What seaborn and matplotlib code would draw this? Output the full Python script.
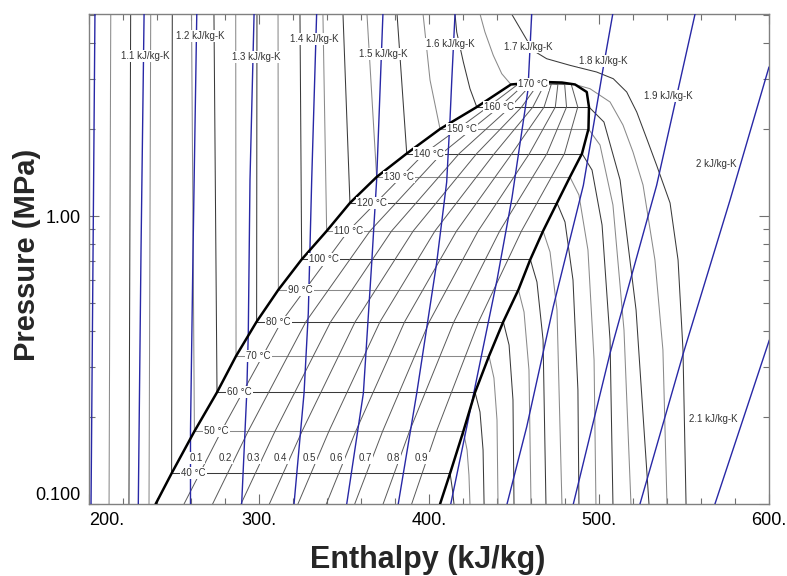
import pandas as pd
import matplotlib
matplotlib.use("Agg")
import matplotlib.pyplot as plt
import seaborn as sns
from matplotlib.ticker import FixedLocator, NullFormatter

# ---------- values (h in kJ/kg, P in MPa) ----------

# saturation dome: liquid side bottom -> top -> vapour side bottom
dome_h = [239.2, 248.6, 262.0, 275.3, 286.5, 298.6, 311.4, 325.1, 339.8, 353.5, 369.2,
          386.9, 406.5, 428.1, 448.2, 458.2, 468.2, 478.2, 485.9, 492.8, 494.1, 493.8,
          490.0, 482.9, 475.3, 467.1, 459.6, 452.6, 443.7, 435.3, 427.1, 420.2, 412.4, 406.5]
dome_p = [0.100, 0.1278, 0.1788, 0.2442, 0.3265, 0.4296, 0.5546, 0.7066, 0.8870, 1.110, 1.366,
          1.648, 2.005, 2.390, 2.862, 2.896, 2.919, 2.907, 2.862, 2.695, 2.390, 2.005,
          1.648, 1.366, 1.110, 0.8870, 0.7066, 0.5546, 0.4296, 0.3265, 0.2442, 0.1788, 0.1278, 0.100]

# labelled isotherms: saturation pressure and the two ends of the flat part
temps = [40, 50, 60, 70, 80, 90, 100, 110, 120, 130, 140, 150, 160, 170]
p_sat = [0.1278, 0.1788, 0.2442, 0.3265, 0.4296, 0.5546, 0.7066, 0.8870, 1.110, 1.366,
         1.648, 2.005, 2.390, 2.862]
h_sat_liq = [248.6, 262.0, 275.3, 286.5, 298.6, 311.4, 325.1, 339.8, 353.5, 369.2,
             386.9, 406.5, 428.1, 448.2]
h_sat_vap = [412.4, 420.2, 427.1, 435.3, 443.7, 452.6, 459.6, 467.1, 475.3, 482.9,
             490.0, 493.8, 494.1, 485.9]

# compressed-liquid branches (saturated liquid up to the top edge)
liquid_branches = {
    10: ([211.8, 212.8], [0.100, 5.028]),
    20: ([223.5, 224.5], [0.100, 5.028]),
    30: ([235.3, 236.3], [0.100, 5.028]),
    40: ([248.6, 249.0], [0.1278, 5.028]),
    50: ([262.0, 260.3], [0.1788, 5.028]),
    60: ([275.3, 273.5], [0.2442, 5.028]),
    70: ([286.5, 286.3], [0.3265, 5.028]),
    80: ([298.6, 298.8], [0.4296, 5.028]),
    90: ([311.4, 311.2], [0.5546, 5.028]),
    100: ([325.1, 324.1], [0.7066, 5.028]),
    110: ([339.8, 337.6], [0.8870, 5.028]),
    120: ([353.5, 349.4], [1.110, 5.028]),
    130: ([369.2, 363.5], [1.366, 5.028]),
    140: ([386.9, 383.9, 381.2], [1.648, 2.966, 5.028]),
    150: ([406.5, 400.6, 396.5], [2.005, 2.966, 5.028]),
    160: ([428.1, 424.1, 420.2, 416.3, 415.3], [2.390, 2.767, 3.425, 4.354, 5.028]),
    170: ([448.2, 442.8, 437.8, 432.9, 430.0], [2.862, 3.119, 3.614, 4.354, 5.028]),
}

# superheated branches (saturated vapour down to the bottom edge), 180 °C is supercritical
vapour_branches = {
    40: ([412.4, 413.8, 414.7], [0.1278, 0.112, 0.100]),
    50: ([420.2, 422.4, 423.5, 424.1], [0.1788, 0.1540, 0.1260, 0.100]),
    60: ([427.1, 430.0, 431.8, 432.4], [0.2442, 0.2087, 0.1540, 0.100]),
    70: ([435.3, 438.2, 440.0, 440.6], [0.3265, 0.2738, 0.1957, 0.100]),
    80: ([443.7, 447.1, 449.4, 450.0], [0.4296, 0.3565, 0.2297, 0.100]),
    90: ([452.6, 455.9, 458.8, 460.0], [0.5546, 0.4642, 0.2920, 0.100]),
    100: ([459.6, 463.5, 467.1, 468.8], [0.7066, 0.5900, 0.3711, 0.100]),
    110: ([467.1, 471.2, 475.3, 478.2], [0.8870, 0.7499, 0.4717, 0.100]),
    120: ([475.3, 480.0, 484.7, 487.6, 488.2], [1.110, 0.9532, 0.5995, 0.2487, 0.100]),
    130: ([482.9, 488.2, 493.5, 497.1, 498.2], [1.366, 1.183, 0.7623, 0.3162, 0.100]),
    140: ([490.0, 495.9, 501.8, 506.5, 508.2], [1.648, 1.444, 0.9306, 0.3711, 0.100]),
    150: ([493.8, 500.6, 508.2, 514.7, 518.8], [2.005, 1.764, 1.092, 0.4019, 0.100]),
    160: ([494.1, 502.9, 512.4, 521.8, 529.4], [2.390, 2.120, 1.334, 0.4717, 0.100]),
    170: ([485.9, 494.7, 506.5, 514.1, 520.0, 525.9, 532.9, 537.6, 540.0],
          [2.862, 2.767, 2.488, 2.070, 1.668, 1.281, 0.7038, 0.3426, 0.100]),
    180: ([448.6, 452.5, 459.4, 463.4, 469.2, 482.9, 498.6, 508.4, 516.3, 522.2, 528.1,
           533.9, 541.8, 546.5, 549.4, 551.2],
          [5.028, 4.594, 3.915, 3.690, 3.517, 3.336, 3.162, 2.997, 2.695, 2.296, 1.855,
           1.500, 1.110, 0.7038, 0.3426, 0.100]),
}

# constant-quality lines, read at a few pressures and meeting at the critical point
quality_p = [0.100, 0.1788, 0.4296, 0.8870, 1.648, 2.390, 2.862, 2.919]
quality_h = {
    0.1: [255.9, 277.8, 313.2, 352.5, 397.2, 434.6, 452.2, 468.2],
    0.2: [272.7, 293.6, 327.6, 365.3, 407.5, 441.3, 456.1, 468.2],
    0.3: [289.4, 309.4, 342.2, 378.0, 417.8, 447.9, 460.1, 468.2],
    0.4: [306.1, 325.3, 356.6, 390.7, 428.1, 454.5, 464.0, 468.2],
    0.5: [322.9, 341.1, 371.2, 403.5, 438.5, 461.1, 467.9, 468.2],
    0.6: [339.6, 356.9, 385.7, 416.2, 448.8, 467.7, 471.9, 468.2],
    0.7: [356.3, 372.7, 400.2, 428.9, 459.1, 474.3, 475.8, 468.2],
    0.8: [373.0, 388.5, 414.7, 441.6, 469.4, 480.9, 479.8, 468.2],
    0.9: [389.8, 404.4, 429.2, 454.4, 479.7, 487.5, 483.7, 468.2],
}
quality_label_h = [263.4, 280.0, 296.6, 312.8, 329.4, 345.7, 362.4, 379.0, 395.7]
quality_label_p = 0.1444

# isentropes (kJ/kg-K)
isentropes = {
    1.0: ([203.5, 201.2], [5.028, 0.100]),
    1.1: ([232.4, 230.6, 229.0], [5.028, 0.7623, 0.100]),
    1.2: ([263.4, 261.2, 259.7, 259.7], [5.028, 0.7623, 0.1788, 0.100]),
    1.3: ([297.1, 294.7, 293.7, 292.8, 289.8], [5.028, 1.334, 0.3924, 0.2428, 0.100]),
    1.4: ([333.9, 331.0, 330.0, 329.0, 326.5, 320.6], [5.028, 1.334, 0.7822, 0.4604, 0.2428, 0.100]),
    1.5: ([372.9, 369.2, 366.3, 361.4, 351.6], [5.028, 1.334, 0.6870, 0.2428, 0.100]),
    1.6: ([415.3, 413.4, 412.4, 410.4, 404.5, 392.8, 381.9],
          [5.028, 2.966, 2.189, 1.312, 0.6870, 0.2428, 0.100]),
    1.7: ([460.4, 458.2, 448.8, 440.0, 426.1, 412.8], [5.028, 2.738, 1.155, 0.5995, 0.2390, 0.100]),
    1.8: ([508.1, 502.4, 490.8, 473.1, 457.5, 445.9], [5.028, 3.247, 1.278, 0.4842, 0.1855, 0.100]),
    1.9: ([556.5, 533.9, 506.5, 484.9], [5.028, 1.278, 0.3337, 0.100]),
    2.0: ([600.0, 577.1, 549.6, 524.1], [3.291, 1.137, 0.3337, 0.100]),
    2.1: ([600.2, 568.2], [0.3711, 0.100]),
}
entropy_labels = ["1.1 kJ/kg-K", "1.2 kJ/kg-K", "1.3 kJ/kg-K", "1.4 kJ/kg-K", "1.5 kJ/kg-K",
                  "1.6 kJ/kg-K", "1.7 kJ/kg-K", "1.8 kJ/kg-K", "1.9 kJ/kg-K", "2 kJ/kg-K",
                  "2.1 kJ/kg-K"]
entropy_label_h = [232.9, 265.3, 298.2, 332.4, 373.1, 412.4, 458.4, 502.5, 540.6, 569.2, 567.2]
entropy_label_p = [3.594, 4.207, 3.566, 4.107, 3.643, 3.966, 3.863, 3.444, 2.610, 1.516, 0.1968]

# ---------- build long tables for seaborn ----------
rows = []


def add_curve(family, name, hs, ps, shade="dark"):
    for i, (h, p) in enumerate(zip(hs, ps)):
        rows.append({"family": family, "curve": name, "i": i, "h": h, "p": p, "shade": shade})


for T, (hs, ps) in liquid_branches.items():
    add_curve("iso", f"L{T}", hs, ps, "dark" if T % 20 == 0 else "light")
for T, (hs, ps) in vapour_branches.items():
    add_curve("iso", f"V{T}", hs, ps, "dark" if T % 20 == 0 else "light")
for T, p, hl, hv in zip(temps, p_sat, h_sat_liq, h_sat_vap):
    add_curve("iso", f"S{T}", [hl, hv], [p, p], "dark" if T % 20 == 0 else "light")
for q, hs in quality_h.items():
    add_curve("quality", f"Q{q}", hs, quality_p)
for s, (hs, ps) in isentropes.items():
    add_curve("entropy", f"E{s}", hs, ps)
add_curve("dome", "dome", dome_h, dome_p)

df = pd.DataFrame(rows)

# ---------- plot ----------
sns.set_style("ticks")
plt.rcParams["font.family"] = ["Liberation Sans", "DejaVu Sans"]

fig = plt.figure(figsize=(7.87, 5.76), dpi=100)
ax = fig.add_axes([89 / 787, 72 / 576, 680 / 787, 490 / 576])
ax.set_yscale("log")

gray_pal = {"dark": "#3a3a3a", "light": "#8a8a8a"}
sns.lineplot(data=df[df.family == "iso"], x="h", y="p", units="curve", hue="shade",
             palette=gray_pal, estimator=None, sort=False, lw=0.75, legend=False,
             ax=ax, zorder=2)
sns.lineplot(data=df[df.family == "quality"], x="h", y="p", units="curve",
             estimator=None, sort=False, color="#5a5a5a", lw=0.7, legend=False,
             ax=ax, zorder=2)
sns.lineplot(data=df[df.family == "entropy"], x="h", y="p", units="curve",
             estimator=None, sort=False, color="#2828a6", lw=1.0, legend=False,
             ax=ax, zorder=3)
sns.lineplot(data=df[df.family == "dome"], x="h", y="p", estimator=None, sort=False,
             color="black", lw=1.8, legend=False, ax=ax, zorder=4)

box = dict(boxstyle="square,pad=0.12", fc="white", ec="none")
for T, p, hl in zip(temps, p_sat, h_sat_liq):
    ax.text(hl + 13, p, f"{T} °C", fontsize=7, color="#333333", ha="center", va="center",
            bbox=box, zorder=6)
for q, h in zip(quality_h.keys(), quality_label_h):
    ax.text(h, quality_label_p, f"{q:g}", fontsize=7, color="#333333", ha="center",
            va="center", bbox=box, zorder=6)
for txt, h, p in zip(entropy_labels, entropy_label_h, entropy_label_p):
    ax.text(h, p, txt, fontsize=7, color="#333333", ha="center", va="center",
            bbox=box, zorder=6)

ax.set_xlim(200, 600)
ax.set_ylim(0.1, 5.028)

ax.set_xticks([200, 300, 400, 500, 600])
ax.set_xticklabels(["200.", "300.", "400.", "500.", "600."])
ax.xaxis.set_minor_locator(FixedLocator([h for h in range(220, 600, 20) if h % 100]))
ax.set_yticks([0.1, 1.0])
ax.set_yticklabels(["0.100", "1.00"])
ax.yaxis.set_minor_locator(FixedLocator([0.2, 0.3, 0.4, 0.5, 0.6, 0.7, 0.8, 0.9, 2, 3, 4, 5]))
ax.yaxis.set_minor_formatter(NullFormatter())
ax.tick_params(which="both", direction="in", top=True, right=True, color="#707070",
               labelsize=13, labelcolor="black", pad=6)
ax.tick_params(which="major", length=7, width=0.8)
ax.tick_params(which="minor", length=4, width=0.8)
ax.get_xticklabels()[0].set_ha("left")
ax.get_yticklabels()[0].set_va("bottom")

for sp in ax.spines.values():
    sp.set_color("#808080")
    sp.set_linewidth(1.0)

ax.set_xlabel("Enthalpy (kJ/kg)", fontsize=22, fontweight="bold", va="center")
ax.set_ylabel("Pressure (MPa)", fontsize=21, fontweight="bold", va="center")
ax.xaxis.set_label_coords((428 - 89) / 680, (504 - 560) / 490)
ax.yaxis.set_label_coords((27 - 89) / 680, (504 - 255) / 490)

fig.savefig("out.png", dpi=100)
